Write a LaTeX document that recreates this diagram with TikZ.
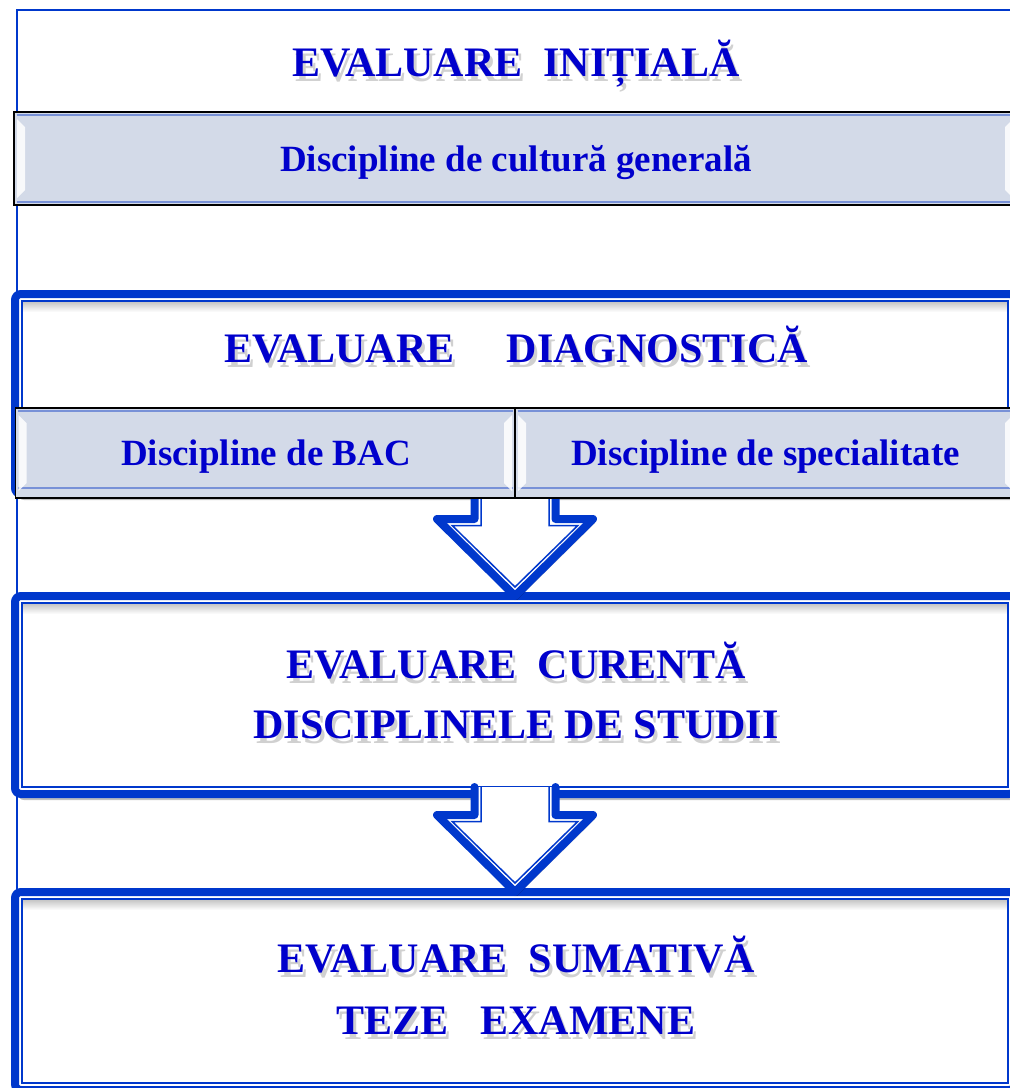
\documentclass[tikz,border=0pt]{standalone}
\usepackage{fontspec}
\setmainfont{Liberation Serif}
\usetikzlibrary{calc,shadows}

\definecolor{txtblue}{RGB}{0,0,204}
\definecolor{frameblue}{RGB}{0,56,204}
\definecolor{bevelgray}{RGB}{211,218,232}
\definecolor{bevelline}{RGB}{120,145,215}

\tikzset{
  bluebox/.style={draw=frameblue, line width=8pt, fill=white, rounded corners=6pt,
    inner sep=0pt, outer sep=0pt,
    drop shadow={shadow xshift=3pt, shadow yshift=-6pt, opacity=.25, fill=black}},
  innerline/.style={draw=frameblue, line width=1.5pt},
  innershade/.style={top color=black!22, bottom color=white},
  bevelbox/.style={draw=black, line width=1.8pt, fill=bevelgray, inner sep=0pt, outer sep=0pt},
  bevelrim/.style={draw=bevelline, line width=1.2pt},
  bevelhl/.style={fill=white, opacity=.85},
  arrowfill/.style={fill=white,
    drop shadow={shadow xshift=2pt, shadow yshift=-4pt, opacity=.25, fill=black}},
  arrowline/.style={draw=frameblue, line width=8pt, line join=round, line cap=round},
  titletext/.style={font=\fontsize{42}{50}\selectfont\bfseries, text=txtblue, anchor=base, inner sep=0pt},
  subtext/.style={font=\fontsize{37}{44}\selectfont\bfseries, text=txtblue, anchor=base, inner sep=0pt},
}

% title with a soft shadow behind it
\newcommand{\shadowtitle}[3]{%
  \node[titletext, text=black!60, opacity=.3] (#1-sh) at ($#2+(3,5)$) {#3};
  \node[titletext] (#1) at #2 {#3};}

% rims and end highlights of a grey box
\newcommand{\bevel}[2]{%
  \draw[bevelrim] ($(#1.north west)+(2.5,3)$) -- ($(#1.north east)+(-2.5,3)$);
  \draw[bevelrim] ($(#1.south west)+(2.5,-#2)$) -- ($(#1.south east)+(-2.5,-#2)$);
  \fill[bevelhl] ($(#1.north west)+(3,7)$) -- ++(8,8) -- ($(#1.south west)+(11,-15)$) -- ++(-8,8) -- cycle;
  \fill[bevelhl] ($(#1.north east)+(-3,7)$) -- ++(-8,8) -- ($(#1.south east)+(-11,-15)$) -- ++(8,8) -- cycle;}

% block arrow from one box down to the next
\newcommand{\flowarrow}[2]{%
  \path[arrowfill] let \p1=(#1.south), \p2=(#2.north) in
    (\x2-40.5pt,\y1+7pt) -- (\x2-40.5pt,\y2+77pt) -- (\x2-78pt,\y2+77pt) -- (\x2,\y2)
    -- (\x2+78pt,\y2+77pt) -- (\x2+40.5pt,\y2+77pt) -- (\x2+40.5pt,\y1+7pt) -- cycle;
  \draw[arrowline] let \p1=(#1.south), \p2=(#2.north) in
    (\x2-40.5pt,\y1+7pt) -- (\x2-40.5pt,\y2+77pt) -- (\x2-78pt,\y2+77pt) -- (\x2,\y2)
    -- (\x2+78pt,\y2+77pt) -- (\x2+40.5pt,\y2+77pt) -- (\x2+40.5pt,\y1+7pt);
  \draw[innerline] let \p1=(#1.south), \p2=(#2.north) in
    (\x2-34pt,\y1+7pt) -- (\x2-34pt,\y2+70.5pt) -- (\x2-62.8pt,\y2+70.5pt) -- (\x2,\y2+9pt)
    -- (\x2+62.8pt,\y2+70.5pt) -- (\x2+34pt,\y2+70.5pt) -- (\x2+34pt,\y1+7pt);}

\begin{document}
\begin{tikzpicture}[x=1pt,y=-1pt]
\clip (0,0) rectangle (1010,1088);
\draw[draw=frameblue, line width=1.2pt] (17,10) rectangle (1030,1100);

% framed stages
\node[bluebox, minimum width=1000pt, minimum height=200pt] (diag) at (515,394) {};
\node[bluebox, minimum width=1000pt, minimum height=198pt] (cur) at (515,695) {};
\node[bluebox, minimum width=1000pt, minimum height=198pt] (sum) at (515,991) {};
\foreach \b in {diag,cur,sum} {
  \shade[innershade] ($(\b.north west)+(8,8)$) rectangle ($(\b.north east)+(-8,18)$);
  \draw[innerline] ($(\b.north west)+(7,7)$) rectangle ($(\b.south east)+(-7,-7)$);
}

\flowarrow{diag}{cur}
\flowarrow{cur}{sum}

% grey boxes
\node[bevelbox, minimum width=1002pt, minimum height=93pt] (cult) at (515,158.5) {};
\node[bevelbox, minimum width=499.5pt, minimum height=90pt] (bac) at (265.25,453) {};
\node[bevelbox, minimum width=501pt, minimum height=90pt] (spec) at (765.5,453) {};
\bevel{cult}{3}
\bevel{bac}{10}
\bevel{spec}{10}

% texts
\shadowtitle{t-init}{(516,76)}{EVALUARE~~INIȚIALĂ}
\node[subtext] (t-cult) at (516,171) {Discipline de cultură generală};
\shadowtitle{t-diag}{(516,362)}{EVALUARE~~~~~DIAGNOSTICĂ}
\node[subtext] (t-bac) at (266,465) {Discipline de BAC};
\node[subtext] (t-spec) at (765.5,465) {Discipline de specialitate};
\shadowtitle{t-cur1}{(516,678)}{EVALUARE~~CURENTĂ}
\shadowtitle{t-cur2}{(516,738)}{DISCIPLINELE DE STUDII}
\shadowtitle{t-sum1}{(516,972)}{EVALUARE~~SUMATIVĂ}
\shadowtitle{t-sum2}{(516,1034)}{TEZE~~~EXAMENE}
\end{tikzpicture}
\end{document}
